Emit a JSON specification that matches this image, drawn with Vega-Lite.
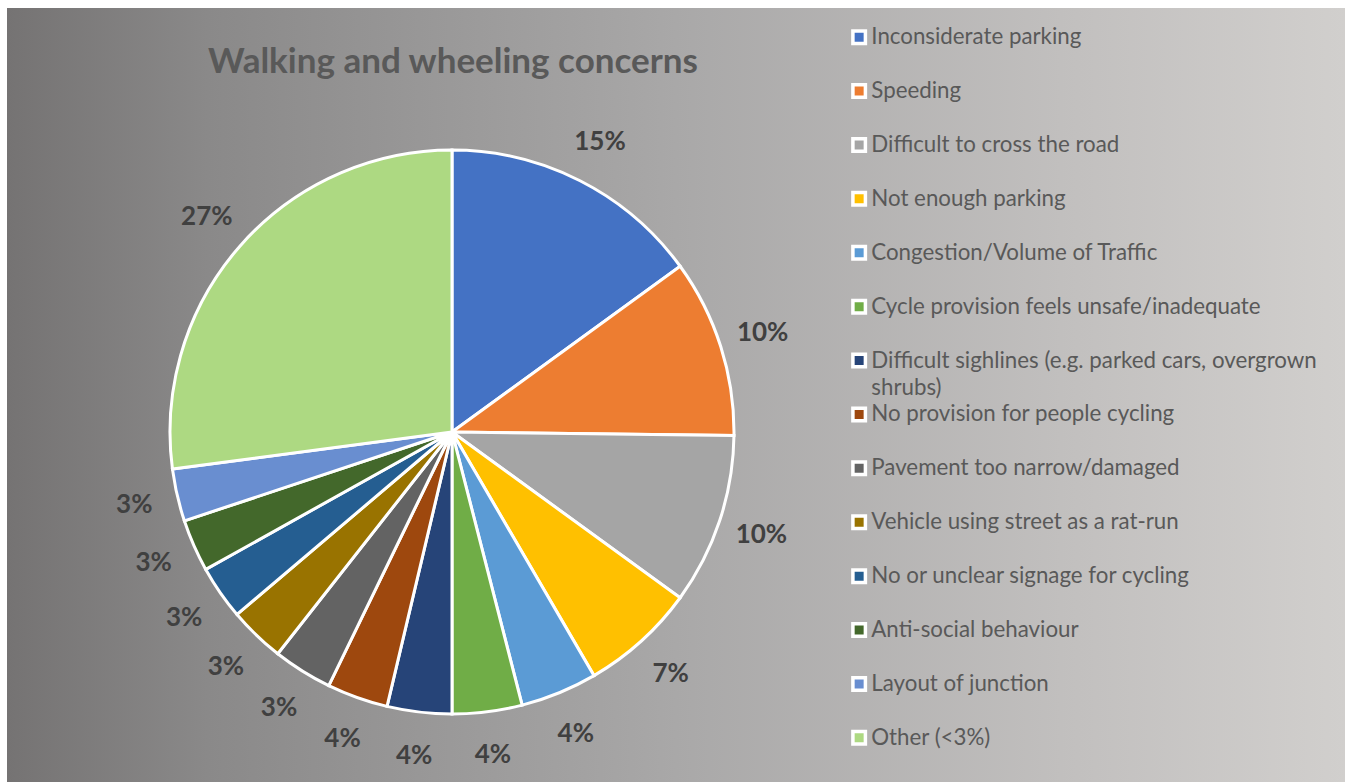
{
  "$schema": "https://vega.github.io/schema/vega-lite/v6.json",
  "width": 1351,
  "height": 782,
  "autosize": {"type": "fit", "contains": "padding"},
  "padding": {"left": 7, "top": 8, "right": 6, "bottom": 0},
  "background": "#ffffff",
  "view": {
    "stroke": null,
    "fill": {
      "gradient": "linear",
      "x1": 0, "y1": 0, "x2": 1, "y2": 0,
      "stops": [
        {"offset": 0, "color": "#757373"},
        {"offset": 0.15, "color": "#8a8989"},
        {"offset": 0.5, "color": "#a9a8a8"},
        {"offset": 0.8, "color": "#c2c0bf"},
        {"offset": 1, "color": "#d1cfcd"}
      ]
    }
  },
  "title": {
    "text": "Walking and wheeling concerns",
    "anchor": "start",
    "frame": "group",
    "offset": -72,
    "dx": 201,
    "font": "Lato",
    "fontSize": 35,
    "fontWeight": "bold",
    "color": "#595959"
  },
  "data": {
    "values": [
      {"cat": "Inconsiderate parking", "ord": 1, "value": 0.150},
      {"cat": "Speeding", "ord": 2, "value": 0.102},
      {"cat": "Difficult to cross the road", "ord": 3, "value": 0.098},
      {"cat": "Not enough parking", "ord": 4, "value": 0.066},
      {"cat": "Congestion/Volume of Traffic", "ord": 5, "value": 0.044},
      {"cat": "Cycle provision feels unsafe/inadequate", "ord": 6, "value": 0.040},
      {"cat": "Difficult sighlines (e.g. parked cars, overgrown shrubs)", "ord": 7, "value": 0.037},
      {"cat": "No provision for people cycling", "ord": 8, "value": 0.035},
      {"cat": "Pavement too narrow/damaged", "ord": 9, "value": 0.034},
      {"cat": "Vehicle using street as a rat-run", "ord": 10, "value": 0.032},
      {"cat": "No or unclear signage for cycling", "ord": 11, "value": 0.031},
      {"cat": "Anti-social behaviour", "ord": 12, "value": 0.030},
      {"cat": "Layout of junction", "ord": 13, "value": 0.030},
      {"cat": "Other (<3%)", "ord": 14, "value": 0.271}
    ]
  },
  "encoding": {
    "theta": {"field": "value", "type": "quantitative", "stack": true},
    "order": {"field": "ord", "type": "quantitative"}
  },
  "layer": [
    {
      "mark": {"type": "arc", "outerRadius": 282, "x": 445, "y": 424, "stroke": "#ffffff", "strokeWidth": 3},
      "encoding": {
        "color": {
          "field": "cat",
          "type": "nominal",
          "scale": {
            "domain": [
              "Inconsiderate parking", "Speeding", "Difficult to cross the road", "Not enough parking",
              "Congestion/Volume of Traffic", "Cycle provision feels unsafe/inadequate",
              "Difficult sighlines (e.g. parked cars, overgrown shrubs)", "No provision for people cycling",
              "Pavement too narrow/damaged", "Vehicle using street as a rat-run",
              "No or unclear signage for cycling", "Anti-social behaviour", "Layout of junction", "Other (<3%)"
            ],
            "range": ["#4472C4", "#ED7D31", "#A5A5A5", "#FFC000", "#5B9BD5", "#70AD47", "#264478", "#9E480E", "#636363", "#997300", "#255E91", "#43682B", "#698ED0", "#ADD982"]
          },
          "legend": {
            "orient": "none",
            "legendX": 841,
            "legendY": 18,
            "title": null,
            "padding": 0,
            "symbolType": "square",
            "symbolSize": 156,
            "symbolStrokeColor": "#ffffff",
            "symbolStrokeWidth": 3.5,
            "symbolOpacity": 1,
            "labelFont": "Lato",
            "labelFontSize": 22.3,
            "labelColor": "#595959",
            "labelLimit": 700,
            "labelOffset": 1,
            "labelBaseline": "top",
            "gridAlign": "all",
            "rowPadding": 0.9,
            "labelExpr": "datum.label == 'Difficult sighlines (e.g. parked cars, overgrown shrubs)' ? ['Difficult sighlines (e.g. parked cars, overgrown', 'shrubs)'] : datum.label",
            "encode": {
              "labels": {"update": {"dy": {"value": -11}, "lineHeight": {"value": 27}}}
            }
          }
        }
      }
    },
    {
      "mark": {"type": "text", "radius": 326, "x": 445, "y": 424, "font": "Lato", "fontSize": 26, "fontWeight": "bold", "color": "#404040"},
      "encoding": {
        "text": {"field": "value", "type": "quantitative", "format": ".0%"}
      }
    }
  ]
}
